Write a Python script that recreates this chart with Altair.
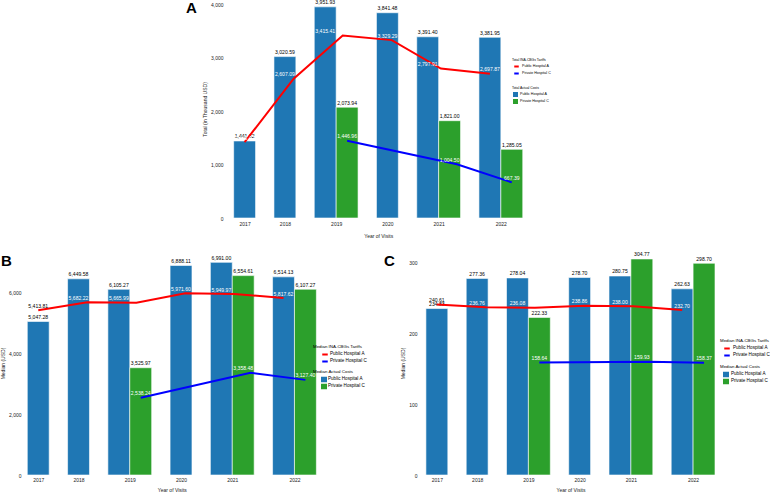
import altair as alt
import pandas as pd

years = [2017, 2018, 2019, 2020, 2021, 2022]
hospitals = ["Public Hospital A", "Private Hospital C"]
bar_colors = ["#1f77b4", "#2ca02c"]
line_colors = ["#ff0000", "#0000ff"]

# Panel A: total actual costs and total INA-CBGs tariffs (thousand USD)
a_cost_public = [1441.62, 3020.59, 3951.93, 3841.48, 3391.40, 3381.95]
a_cost_private = [None, None, 2073.94, None, 1821.00, 1285.05]
a_tariff_public = [1418.42, 2607.09, 3415.41, 3329.29, 2797.91, 2697.87]
a_tariff_private = [None, None, 1446.96, None, 1004.50, 667.39]

# Panel B: median actual costs and tariffs (USD)
b_cost_public = [5047.28, 6449.58, 6105.27, 6888.11, 6991.00, 6514.13]
b_cost_private = [None, None, 3525.97, None, 6554.61, 6107.27]
b_tariff_public = [5413.81, 5682.22, 5665.99, 5971.60, 5949.97, 5817.62]
b_tariff_private = [None, None, 2538.24, None, 3358.48, 3127.40]

# Panel C: median actual costs and tariffs (USD)
c_cost_public = [234.83, 277.36, 278.04, 278.70, 280.75, 262.63]
c_cost_private = [None, None, 222.33, None, 304.77, 298.70]
c_tariff_public = [240.61, 236.76, 236.08, 238.86, 238.00, 232.70]
c_tariff_private = [None, None, 158.64, None, 159.93, 158.37]

FONT = "Liberation Sans"
PX_PER_UNIT = 21.9   # pixels per bar width
GAP = 0.84           # gap between year groups, in bar widths


def build_tables(cost_pub, cost_priv, tariff_pub, tariff_priv):
    """Bars are laid side by side per year; years without a private value get one bar."""
    rows, centers, cursor = [], [], 0.0
    for i, yr in enumerate(years):
        group = [(hospitals[0], cost_pub[i], tariff_pub[i])]
        if cost_priv[i] is not None:
            group.append((hospitals[1], cost_priv[i], tariff_priv[i]))
        for j, (hosp, cost, tariff) in enumerate(group):
            x0 = cursor + j
            rows.append({"year": yr, "hospital": hosp, "cost": cost, "tariff": tariff,
                         "x0": x0, "x1": x0 + 1, "xc": x0 + 0.5})
        centers.append(cursor + len(group) / 2)
        cursor += len(group) + GAP
    bars = pd.DataFrame(rows)
    # tariff lines run evenly by year from each hospital's first bar to its last bar
    lines = []
    for hosp in hospitals:
        sub = bars[bars["hospital"] == hosp]
        y0, y1 = int(sub["year"].iloc[0]), int(sub["year"].iloc[-1])
        c0, c1 = float(sub["xc"].iloc[0]), float(sub["xc"].iloc[-1])
        for yr, t in zip(sub["year"], sub["tariff"]):
            lines.append({"year": int(yr), "site": hosp, "tariff": t,
                          "xl": c0 + (int(yr) - y0) * (c1 - c0) / (y1 - y0)})
    return bars, pd.DataFrame(lines), centers, cursor - GAP


def legend(title, x, y, font, sym, kind, sym_off, lab_off):
    return alt.Legend(
        title=title, orient="none", legendX=x, legendY=y,
        titleFont=FONT, labelFont=FONT, titleFontSize=font, labelFontSize=font + 0.2,
        titleFontWeight="normal", titleColor="black", labelColor="black",
        symbolType="stroke" if kind == "line" else "square",
        symbolSize=sym * sym, symbolStrokeWidth=2 if kind == "line" else 0,
        symbolOffset=sym_off, labelOffset=lab_off, clipHeight=6,
        rowPadding=1, titlePadding=2, padding=0,
    )


def panel(letter, tables, ymax, yticks, ytitle, tariff_title, cost_title,
          plot_width, height, pad, letter_xy, line_leg, fill_leg, leg_font, leg_sym,
          sym_off, lab_off, xlab_pad, xtitle_pad):
    bars, lines, centers, span = tables
    units = plot_width / PX_PER_UNIT
    xscale = alt.Scale(domain=[-pad, units - pad], nice=False, zero=False)
    yscale = alt.Scale(domain=[0, ymax], nice=False, zero=True)

    expr = f"'{years[-1]}'"
    for k in range(len(years) - 2, -1, -1):
        mid = (centers[k] + centers[k + 1]) / 2
        expr = f"datum.value < {mid:.3f} ? '{years[k]}' : " + expr

    xaxis = alt.Axis(values=centers, labelExpr=expr, title="Year of Visits",
                     domain=False, ticks=False, grid=False, labelFlush=False,
                     labelOverlap=False, labelFontSize=5, titleFontSize=5,
                     titleFontWeight="normal", labelPadding=xlab_pad,
                     titlePadding=xtitle_pad,
                     titleX=(pad + span / 2) * PX_PER_UNIT)
    yaxis = alt.Axis(values=yticks, format=",d", title=ytitle, domain=False,
                     ticks=False, grid=False, labelFontSize=5, titleFontSize=5,
                     titleFontWeight="normal", labelPadding=3, titlePadding=3)

    def xenc(field):
        return alt.X(field, type="quantitative", scale=xscale, axis=xaxis, title="Year of Visits")

    def yenc(field):
        return alt.Y(field, type="quantitative", scale=yscale, axis=yaxis, title=ytitle)

    base = alt.Chart(bars)
    bar_layer = base.mark_bar(stroke="white", strokeWidth=0.6).encode(
        x=xenc("x0"),
        x2="x1:Q",
        y=yenc("cost"),
        y2=alt.datum(0),
        fill=alt.Fill("hospital:N",
                      scale=alt.Scale(domain=hospitals, range=bar_colors),
                      legend=legend(cost_title, fill_leg[0], fill_leg[1], leg_font,
                                    leg_sym, "bar", sym_off, lab_off)),
    )
    cost_text = base.mark_text(baseline="bottom", dy=-1.5, fontSize=5.1,
                               color="black", font=FONT).encode(
        x=xenc("xc"),
        y=yenc("cost"),
        text=alt.Text("cost:Q", format=",.2f"),
    )
    # the tariff legend keeps a data-driven domain (ordered like the bars)
    line_layer = alt.Chart(lines).mark_line(strokeWidth=2).encode(
        x=xenc("xl"),
        y=yenc("tariff"),
        color=alt.Color("site:N", sort=hospitals,
                        scale=alt.Scale(range=line_colors),
                        legend=legend(tariff_title, line_leg[0], line_leg[1], leg_font,
                                      leg_sym - 0.5, "line", sym_off, lab_off)),
    )
    tariff_text = base.mark_text(baseline="bottom", dy=-1.5, fontSize=5.1,
                                 font=FONT).encode(
        x=xenc("xc"),
        y=yenc("tariff"),
        text=alt.Text("tariff:Q", format=",.2f"),
        color=alt.condition("datum.tariff < datum.cost",
                            alt.value("white"), alt.value("black")),
    )
    tag = alt.Chart(pd.DataFrame({"tag": [letter]})).mark_text(
        align="left", baseline="top", fontSize=15, fontWeight="bold", font=FONT
    ).encode(text="tag:N", x=alt.value(letter_xy[0]), y=alt.value(letter_xy[1]))

    return alt.layer(bar_layer, cost_text, line_layer, tariff_text, tag).properties(
        width=plot_width, height=height)


panel_a = panel("A", build_tables(a_cost_public, a_cost_private, a_tariff_public, a_tariff_private),
                4080, [0, 1000, 2000, 3000, 4000], "Total (in Thousand USD)",
                "Total INA-CBGs Tariffs", "Total Actual Costs",
                342, 218, 0.35, (-40, 1), (286, 58), (286, 86), 3.4, 5, 1, 2, 3, 7)
panel_b = panel("B", build_tables(b_cost_public, b_cost_private, b_tariff_public, b_tariff_private),
                7364, [0, 2000, 4000, 6000], "Median (USD)",
                "Median INA-CBGs Tariffs", "Median Actual Costs",
                302, 224, 0.15, (-23, 3), (289, 94), (289, 119), 4.4, 6, 8, 1, 2, 5)
panel_c = panel("C", build_tables(c_cost_public, c_cost_private, c_tariff_public, c_tariff_private),
                316, [0, 100, 200, 300], "Median (USD)",
                "Median INA-CBGs Tariffs", "Median Actual Costs",
                302, 224, 0.27, (-36, 3), (300, 88), (300, 114), 4.4, 6, 3, 2, 2, 5)

bottom = alt.hconcat(panel_b, panel_c, spacing=17).resolve_scale(
    color="independent", fill="independent").resolve_legend(
    color="independent", fill="independent")

chart = alt.vconcat(panel_a, bottom, spacing=13, center=True).resolve_scale(
    color="independent", fill="independent").resolve_legend(
    color="independent", fill="independent").configure(
    font=FONT, padding={"left": 0, "top": 0, "right": 0, "bottom": 0},
    background="white").configure_view(stroke=None).configure_axis(
    labelColor="#222222", titleColor="#222222", labelFont=FONT, titleFont=FONT)

chart.save("out.html", embed_options={"renderer": "svg", "actions": False})
